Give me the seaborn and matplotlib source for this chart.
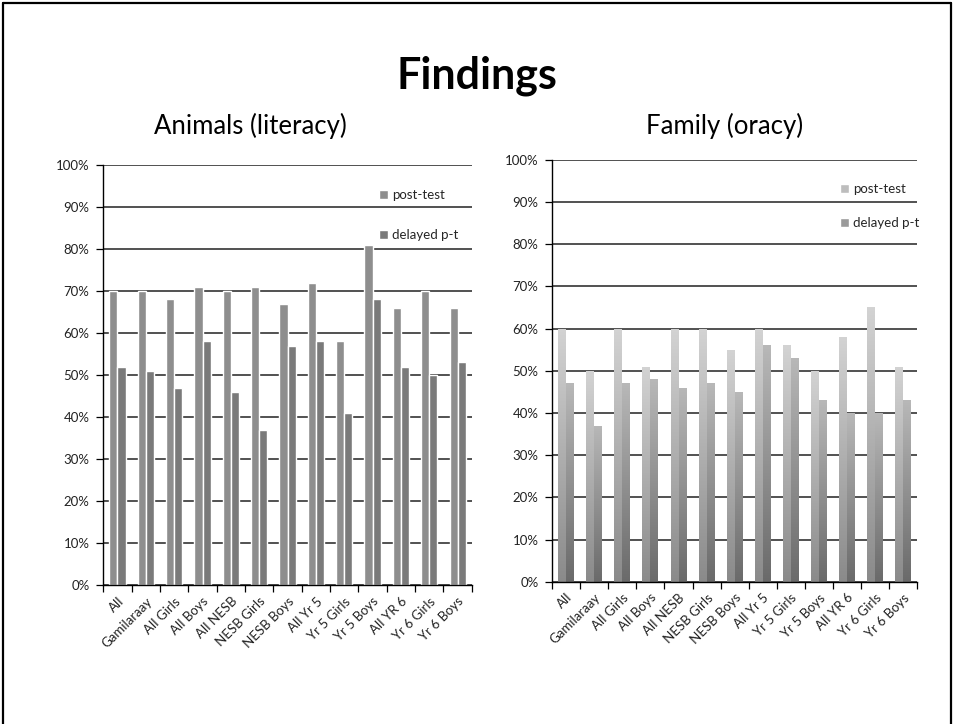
import numpy as np
import pandas as pd
import matplotlib
matplotlib.use("Agg")
import matplotlib.pyplot as plt
from matplotlib.lines import Line2D
from matplotlib.colors import LinearSegmentedColormap
import seaborn as sns

# Groups shown along the x axis of both charts
groups = ["All", "Gamilaraay", "All Girls", "All Boys", "All NESB", "NESB Girls",
          "NESB Boys", "All Yr 5", "Yr 5 Girls", "Yr 5 Boys", "All YR 6",
          "Yr 6 Girls", "Yr 6 Boys"]
series = ["post-test", "delayed p-t"]

# Animals (literacy) scores, percent
animals_post = [70, 70, 68, 71, 70, 71, 67, 72, 58, 81, 66, 70, 66]
animals_delayed = [52, 51, 47, 58, 46, 37, 57, 58, 41, 68, 52, 50, 53]

# Family (oracy) scores, percent
family_post = [60, 50, 60, 51, 60, 60, 55, 60, 56, 50, 58, 65, 51]
family_delayed = [47, 37, 47, 48, 46, 47, 45, 56, 53, 43, 40, 40, 43]

y_ticks = [0, 10, 20, 30, 40, 50, 60, 70, 80, 90, 100]


def long_frame(post, delayed):
    return pd.DataFrame({
        "group": groups * 2,
        "series": [series[0]] * len(groups) + [series[1]] * len(groups),
        "value": list(post) + list(delayed),
    })


sns.set_theme(style="white")
plt.rcParams["font.family"] = ["Lato", "DejaVu Sans"]

fig = plt.figure(figsize=(9.54, 7.24), dpi=100)
fig.patch.set_facecolor("white")

ax_left = fig.add_axes([0.1083, 0.1913, 0.3862, 0.5812])
ax_right = fig.add_axes([0.5789, 0.1965, 0.3823, 0.5829])


def style_axes(ax):
    ax.set_ylim(0, 100)
    ax.set_xlim(-0.5, len(groups) - 0.5)
    ax.set_yticks(y_ticks)
    ax.set_yticklabels([f"{t}%" for t in y_ticks], fontsize=9.5, color="#222222")
    ax.set_xticks(range(len(groups)))
    ax.set_xticklabels(groups, rotation=45, ha="right", rotation_mode="anchor",
                       fontsize=9.5, color="#222222")
    ax.set_xticks(np.arange(-0.5, len(groups), 1.0), minor=True)
    ax.tick_params(axis="x", which="major", length=0, pad=7)
    ax.tick_params(axis="x", which="minor", length=5, width=0.9, color="black",
                   direction="out", bottom=True)
    ax.tick_params(axis="y", length=5, width=0.9, color="black",
                   direction="out", left=True, pad=5)
    ax.set_xlabel("")
    ax.set_ylabel("")
    ax.grid(axis="y", color="#333333", linewidth=1.2)
    ax.grid(axis="x", visible=False)
    ax.set_axisbelow(True)
    for side in ("top", "right"):
        ax.spines[side].set_visible(False)
    for side in ("left", "bottom"):
        ax.spines[side].set_color("black")
        ax.spines[side].set_linewidth(1.0)


# Animals (literacy): flat grey bars
sns.barplot(data=long_frame(animals_post, animals_delayed), x="group", y="value",
            hue="series", palette=["#8e8e8e", "#7a7a7a"], width=0.57, gap=0,
            saturation=1, ax=ax_left, legend=True)
style_axes(ax_left)
ax_left.legend(loc="upper left", bbox_to_anchor=(0.748, 0.942), frameon=False,
               fontsize=9.5, labelspacing=2.1, handlelength=0.7, handleheight=0.7,
               handletextpad=0.3, borderaxespad=0, borderpad=0)

# Family (oracy): bars shaded with a vertical gradient
sns.barplot(data=long_frame(family_post, family_delayed), x="group", y="value",
            hue="series", palette=["#bdbdbd", "#9a9a9a"], width=0.57, gap=0,
            saturation=1, ax=ax_right, legend=True)
style_axes(ax_right)

grad_post = LinearSegmentedColormap.from_list("gp", ["#8a8a8a", "#d3d3d3"])
grad_delayed = LinearSegmentedColormap.from_list("gd", ["#6a6a6a", "#b8b8b8"])
ramp = np.linspace(0, 1, 256).reshape(-1, 1)
n = len(groups)
for i, bar in enumerate(list(ax_right.patches)[:2 * n]):
    x0, y0 = bar.get_x(), bar.get_y()
    w, h = bar.get_width(), bar.get_height()
    cmap = grad_post if i < n else grad_delayed
    bar.set_facecolor("none")
    bar.set_edgecolor("none")
    img = ax_right.imshow(ramp, cmap=cmap, origin="lower", aspect="auto",
                          extent=[x0, x0 + w, y0, y0 + h], zorder=bar.get_zorder())
    img.set_clip_path(bar)
ax_right.set_xlim(-0.5, n - 0.5)
ax_right.set_ylim(0, 100)
ax_right.legend(loc="upper left", bbox_to_anchor=(0.789, 0.945), frameon=False,
                fontsize=9.5, labelspacing=1.7, handlelength=0.7, handleheight=0.7,
                handletextpad=0.3, borderaxespad=0, borderpad=0)

# Slide heading and chart titles
fig.text(0.5, 0.878, "Findings", ha="center", va="baseline", fontsize=31,
         fontweight="bold", color="black")
fig.text(0.262, 0.815, "Animals (literacy)", ha="center", va="baseline",
         fontsize=18.5, color="black")
fig.text(0.76, 0.815, "Family (oracy)", ha="center", va="baseline",
         fontsize=18.5, color="black")

# Slide frame
fig.add_artist(Line2D([3 / 954, 3 / 954], [0, 1 - 3 / 724], color="black", lw=1.6))
fig.add_artist(Line2D([3 / 954, 951 / 954], [1 - 3 / 724, 1 - 3 / 724],
                      color="black", lw=1.6))
fig.add_artist(Line2D([951 / 954, 951 / 954], [0, 1 - 3 / 724], color="black", lw=1.6))

fig.savefig("out.png", dpi=100, facecolor="white")
